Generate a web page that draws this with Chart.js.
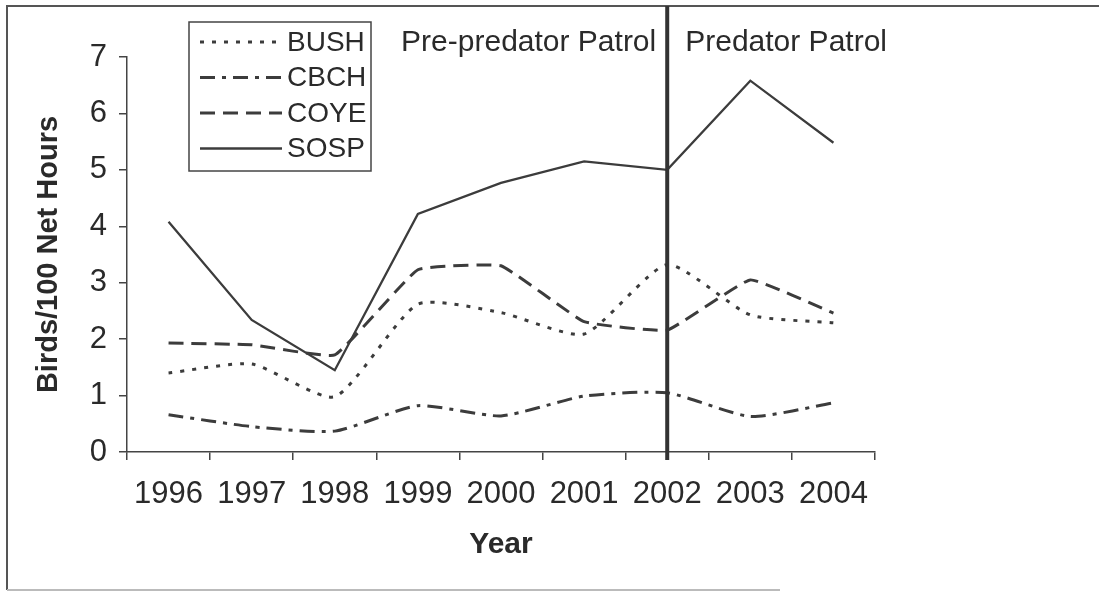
<!DOCTYPE html>
<html>
<head>
<meta charset="utf-8">
<script src="https://cdn.jsdelivr.net/npm/chart.js@4.4.1/dist/chart.umd.min.js"></script>
<style>
  html, body { margin: 0; padding: 0; background: #fff; }
  canvas { display: block; }
</style>
</head>
<body>
<canvas id="chart" width="1099" height="594"></canvas>
<script>
// values (birds per 100 net hours)
const years = ["1996", "1997", "1998", "1999", "2000", "2001", "2002", "2003", "2004"];
const bush = [1.40, 1.56, 0.98, 2.62, 2.47, 2.09, 3.32, 2.43, 2.29];
const cbch = [0.66, 0.45, 0.37, 0.82, 0.64, 0.99, 1.05, 0.63, 0.87];
const coye = [1.93, 1.90, 1.72, 3.23, 3.30, 2.31, 2.16, 3.05, 2.46];
const sosp = [4.08, 2.34, 1.45, 4.22, 4.77, 5.15, 5.00, 6.58, 5.48];
const yTicks = [0, 1, 2, 3, 4, 5, 6, 7];
const patrolStart = "2002";
const periodLabels = ["Pre-predator Patrol", "Predator Patrol"];

const FONT = "'Liberation Sans', Arial, sans-serif";
const INK = "#2a2a2a";

// frame, patrol divider, period labels and the boxed legend
const extras = {
  id: 'extras',
  afterDraw(chart) {
    const ctx = chart.ctx;
    const area = chart.chartArea;
    const x = chart.scales.x.getPixelForValue(years.indexOf(patrolStart));
    ctx.save();

    // outer frame
    ctx.strokeStyle = '#555';
    ctx.lineWidth = 2;
    ctx.beginPath();
    ctx.moveTo(1099, 6); ctx.lineTo(7, 6); ctx.lineTo(7, 590);
    ctx.stroke();
    ctx.strokeStyle = '#bbb';
    ctx.beginPath();
    ctx.moveTo(7, 590); ctx.lineTo(780, 590);
    ctx.stroke();

    // divider
    ctx.strokeStyle = '#333';
    ctx.lineWidth = 4;
    ctx.beginPath();
    ctx.moveTo(x, 6); ctx.lineTo(x, area.bottom + 8);
    ctx.stroke();

    ctx.fillStyle = INK;
    ctx.font = '30px ' + FONT;
    ctx.textBaseline = 'middle';
    ctx.textAlign = 'right';
    ctx.fillText(periodLabels[0], x - 11, 43);
    ctx.textAlign = 'left';
    ctx.fillText(periodLabels[1], x + 18, 43);

    // legend
    ctx.fillStyle = '#fff';
    ctx.fillRect(189, 22, 182, 149);
    ctx.strokeStyle = '#444';
    ctx.lineWidth = 1.5;
    ctx.strokeRect(189, 22, 182, 149);
    ctx.font = '28px ' + FONT;
    chart.data.datasets.forEach((ds, i) => {
      const y = 42 + i * 35.5;
      ctx.strokeStyle = ds.borderColor;
      ctx.lineWidth = ds.borderWidth;
      ctx.setLineDash(ds.borderDash || []);
      ctx.beginPath();
      ctx.moveTo(200, y); ctx.lineTo(282, y);
      ctx.stroke();
      ctx.setLineDash([]);
      ctx.fillStyle = INK;
      ctx.fillText(ds.label, 287, y + 1);
    });
    ctx.restore();
  }
};

new Chart(document.getElementById('chart').getContext('2d'), {
  type: 'line',
  data: {
    labels: years,
    datasets: [
      { label: 'BUSH', data: bush, borderColor: '#3c3c3c', borderWidth: 3, borderDash: [4, 8], tension: 0.2 },
      { label: 'CBCH', data: cbch, borderColor: '#3c3c3c', borderWidth: 3, borderDash: [15, 7, 4, 7], tension: 0.2 },
      { label: 'COYE', data: coye, borderColor: '#3c3c3c', borderWidth: 3, borderDash: [15, 8], tension: 0.1 },
      { label: 'SOSP', data: sosp, borderColor: '#3c3c3c', borderWidth: 2.3, tension: 0 }
    ]
  },
  options: {
    responsive: false,
    animation: false,
    devicePixelRatio: 1,
    layout: { padding: { top: 57, right: 224, left: 0, bottom: 0 } },
    elements: { point: { radius: 0 } },
    plugins: { legend: { display: false }, tooltip: { enabled: false } },
    scales: {
      x: {
        offset: true,
        grid: { offset: true, drawOnChartArea: false, tickLength: 8, color: '#444', lineWidth: 1.5 },
        border: { color: '#444', width: 1.5 },
        ticks: { color: INK, font: { family: FONT, size: 31 }, padding: 16, maxRotation: 0, autoSkip: false },
        title: { display: true, text: 'Year', color: INK, font: { family: FONT, size: 30, weight: 'bold' }, padding: { top: 0, bottom: 31 } },
        afterFit: s => { s.height = 142; }
      },
      y: {
        min: 0,
        max: 7,
        afterBuildTicks: s => { s.ticks = yTicks.map(v => ({ value: v })); },
        grid: { drawOnChartArea: false, tickLength: 8, color: '#444', lineWidth: 1.5 },
        border: { color: '#444', width: 1.5 },
        ticks: { color: INK, font: { family: FONT, size: 31 }, padding: 12 },
        title: { display: true, text: 'Birds/100 Net Hours', color: INK, font: { family: FONT, size: 29, weight: 'bold' }, padding: { top: 32, bottom: 0 } },
        afterFit: s => { s.width = 127; }
      }
    }
  },
  plugins: [extras]
});
</script>
</body>
</html>
